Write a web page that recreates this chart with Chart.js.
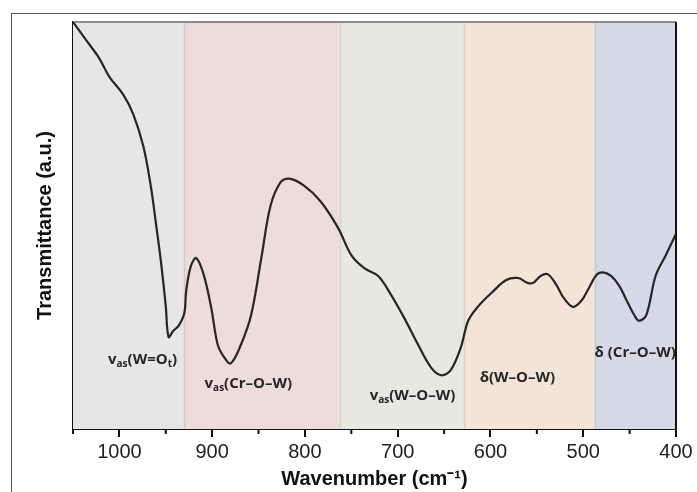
<!DOCTYPE html>
<html>
<head>
<meta charset="utf-8">
<script src="https://cdn.jsdelivr.net/npm/chart.js@4.4.0/dist/chart.umd.min.js"></script>
<style>
  html, body { margin: 0; padding: 0; background: #fff; }
  #wrap { width: 697px; height: 492px; }
</style>
</head>
<body>
<div id="wrap"><canvas id="c" width="697" height="492"></canvas></div>
<script>
// ---- data ----
const wavenumbers = [1050,1036,1022,1011,996,985,974,966,961,955,950,947,942,936,930,928,923,917,909,901,894,887,880,869,858,847,837,826,817,801,783,764,750,736,721,707,693,678,664,653,643,632,624,613,599,583,570,560,554,546,538,529,521,511,502,494,486,479,470,461,452,445,440,432,422,411,400];
const transmittance = [100,95.6,91.2,86.6,82.2,77.3,69.3,59.5,51.2,40.7,30.2,22.6,24.1,25.4,28.5,33.9,40,42,37.8,29.8,20.7,17.6,16.1,20.7,28,42,54.9,60.7,61.5,59.8,55.9,49.3,42.7,39.5,37.6,32.9,27.3,20.7,15.1,13.2,14.4,20,26.6,30.2,33.4,36.6,37.1,35.9,35.9,37.6,38,35.4,32.2,30,31.5,34.6,37.8,38.5,37.6,35.1,31,28,26.6,28,37.6,42.7,48];
const majorTicks = [400,500,600,700,800,900,1000];
const minorTicks = [450,550,650,750,850,950,1050];
const bandStarts = [1050,930,762,628,487];
const bandEnds   = [930,762,628,487,400];
const bandLabels = ["v_{as}(W=O_{t})","v_{as}(Cr\u2013O\u2013W)","v_{as}(W\u2013O\u2013W)","\u03b4(W\u2013O\u2013W)","\u03b4 (Cr\u2013O\u2013W)"];
const labelWavenumbers = [975,861,684,571,444];
const labelLevels = [17.1,11.2,8.3,12.7,18.8];

// ---- styles ----
const bandFill = ['#e8e5e8','#eedcd8','#e6e9de','#f3e4d7','#d4dae6'];
const bandEdge = ['#d9cfd2','#dcc6c2','#d6dacc','#e4d0c0','#c2c8d6'];

function parseRich(s){
  const parts=[]; let i=0;
  while(i<s.length){
    if(s.startsWith('_{',i)){ const j=s.indexOf('}',i); parts.push({t:s.slice(i+2,j),sub:true}); i=j+1; }
    else { let j=s.indexOf('_{',i); if(j<0) j=s.length; parts.push({t:s.slice(i,j),sub:false}); i=j; }
  }
  return parts;
}

const bgPlugin = {
  id:'bands',
  beforeDatasetsDraw(chart){
    const {ctx, chartArea:a, scales:{x}} = chart;
    ctx.save();
    for(let i=0;i<bandStarts.length;i++){
      const x0=x.getPixelForValue(bandStarts[i]), x1=x.getPixelForValue(bandEnds[i]);
      ctx.fillStyle=bandFill[i];
      ctx.fillRect(Math.min(x0,x1),a.top,Math.abs(x1-x0),a.bottom-a.top);
    }
    for(let i=1;i<bandStarts.length;i++){
      const xp=Math.round(x.getPixelForValue(bandStarts[i]))+0.5;
      ctx.strokeStyle=bandEdge[i]; ctx.lineWidth=1.5;
      ctx.beginPath(); ctx.moveTo(xp,a.top); ctx.lineTo(xp,a.bottom); ctx.stroke();
    }
    ctx.strokeStyle='#8c8c8c'; ctx.lineWidth=2;
    ctx.beginPath(); ctx.moveTo(a.left,a.top); ctx.lineTo(a.right,a.top); ctx.stroke();
    ctx.restore();
  },
  afterDatasetsDraw(chart){
    const {ctx, chartArea:a, scales:{x,y}} = chart;
    ctx.save();
    ctx.strokeStyle='#111'; ctx.lineWidth=2;
    ctx.beginPath(); ctx.moveTo(a.right,a.top); ctx.lineTo(a.right,a.bottom); ctx.stroke();
    minorTicks.forEach(v=>{
      const xp=x.getPixelForValue(v);
      ctx.beginPath(); ctx.moveTo(xp,a.bottom); ctx.lineTo(xp,a.bottom+5); ctx.stroke();
    });
    ctx.fillStyle='#262626';
    ctx.textBaseline='alphabetic';
    const fs=15, fsSub=10;
    bandLabels.forEach((lab,i)=>{
      const parts=parseRich(lab);
      let w=0;
      parts.forEach(p=>{ ctx.font=`bold ${p.sub?fsSub:fs}px "Open Sans"`; p.w=ctx.measureText(p.t).width; w+=p.w; });
      let cx=x.getPixelForValue(labelWavenumbers[i])-w/2;
      const cy=y.getPixelForValue(labelLevels[i])+5;
      parts.forEach(p=>{
        ctx.font=`bold ${p.sub?fsSub:fs}px "Open Sans"`;
        ctx.fillText(p.t,cx,p.sub?cy+3:cy);
        cx+=p.w;
      });
    });
    ctx.restore();
  },
  afterDraw(chart){
    const {ctx}=chart;
    ctx.save();
    ctx.strokeStyle='#555'; ctx.lineWidth=1;
    ctx.strokeRect(11.5,13.5,900,700);
    ctx.restore();
  }
};

new Chart(document.getElementById('c'), {
  type:'line',
  data:{
    datasets:[{
      data: wavenumbers.map((w,i)=>({x:w,y:transmittance[i]})),
      borderColor:'#262626',
      borderWidth:2.2,
      pointRadius:0,
      tension:0.35,
      fill:false
    }]
  },
  options:{
    responsive:false,
    animation:false,
    layout:{padding:{left:29,top:22,right:21,bottom:0}},
    plugins:{legend:{display:false},tooltip:{enabled:false}},
    scales:{
      x:{
        type:'linear', min:400, max:1050, reverse:true,
        afterBuildTicks(s){ s.ticks = majorTicks.map(v=>({value:v})); },
        grid:{drawOnChartArea:false, drawTicks:true, tickLength:8, color:'#111', lineWidth:2},
        border:{display:true, color:'#111', width:2},
        ticks:{color:'#222', font:{family:'"Liberation Sans", Arial', size:20}, padding:3, maxRotation:0, autoSkip:false, callback:(v)=>String(v)},
        title:{display:true, text:'Wavenumber (cm\u207B\u00B9)', color:'#111', font:{family:'"Liberation Sans", Arial', size:20, weight:'bold'}, padding:{top:0,bottom:1}}
      },
      y:{
        min:0, max:100,
        grid:{display:false, drawTicks:false},
        border:{display:true, color:'#111', width:2},
        ticks:{display:false},
        title:{display:true, text:'Transmittance (a.u.)', color:'#111', font:{family:'"Liberation Sans", Arial', size:20, weight:'bold'}, padding:{top:4,bottom:16}}
      }
    }
  },
  plugins:[bgPlugin]
});
</script>
</body>
</html>
